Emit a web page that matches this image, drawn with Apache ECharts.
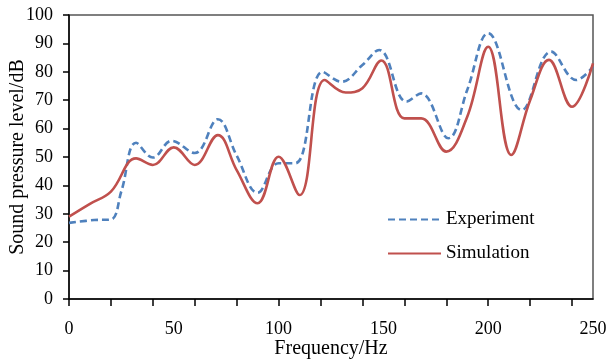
<!DOCTYPE html>
<html>
<head>
<meta charset="utf-8">
<script src="https://cdn.jsdelivr.net/npm/echarts@6/dist/echarts.min.js"></script>
<style>
  html, body { margin: 0; padding: 0; background: #fff; }
  #main { width: 611px; height: 364px; }
</style>
</head>
<body>
<div id="main"></div>
<script>
// values
const expFreq  = [0, 12, 20, 25, 32, 40, 49, 60, 71, 80, 90, 100, 108, 121, 130, 140, 148, 161, 168, 181, 190, 200, 216, 230, 242, 250];
const expLevel = [26.8, 27.8, 28, 38, 55, 49.8, 55.7, 51.4, 63.3, 50.5, 37.4, 47.8, 47.8, 80, 76.5, 82.4, 87.7, 69.5, 72.4, 56.6, 73.6, 93.6, 66.5, 87.1, 77.1, 81.8];

const simFreq  = [0, 10, 20, 32, 40, 50, 60, 71, 80, 90, 100, 110, 122, 132, 140, 149, 160, 168, 180, 190, 200, 211, 220, 229, 240, 250];
const simLevel = [29, 33.5, 37.8, 49.5, 47.2, 53.4, 47.2, 57.7, 45.4, 33.7, 50.1, 36.6, 77.1, 72.7, 74.2, 84, 63.6, 63.6, 51.9, 64.2, 88.8, 50.7, 70, 84.2, 67.7, 83];

const xTicks  = [0, 20, 40, 60, 80, 100, 120, 140, 160, 180, 200, 220, 240];
const xLabels = [0, 50, 100, 150, 200, 250];

const zip = (xs, ys) => xs.map((x, i) => [x, ys[i]]);

const chart = echarts.init(document.getElementById('main'));
const font = 'Liberation Serif, Times New Roman, serif';

const option = {
  animation: false,
  grid: {
    left: 69, right: 18, top: 15, bottom: 65,
    outerBoundsMode: 'none',
    show: true, borderColor: '#555', borderWidth: 1.5
  },
  legend: {
    orient: 'vertical',
    left: 382, top: 205,
    itemWidth: 53, itemHeight: 14, itemGap: 15,
    itemStyle: { opacity: 0 },
    textStyle: { fontFamily: font, fontSize: 19, color: '#000' },
    data: ['Experiment', 'Simulation']
  },
  xAxis: {
    type: 'value', min: 0, max: 250, interval: 50,
    name: 'Frequency/Hz', nameLocation: 'middle', nameGap: 40, nameMoveOverlap: false,
    nameTextStyle: { fontFamily: font, fontSize: 20, color: '#000' },
    axisLine: { lineStyle: { color: '#000', width: 1.5 } },
    axisTick: { show: true, length: 7, customValues: xTicks, lineStyle: { color: '#000', width: 1.5 } },
    axisLabel: { customValues: xLabels, margin: 21, fontFamily: font, fontSize: 18, color: '#000' },
    splitLine: { show: false }
  },
  yAxis: {
    type: 'value', min: 0, max: 100, interval: 10,
    name: 'Sound pressure level/dB', nameLocation: 'middle', nameGap: 41, nameMoveOverlap: false,
    nameTextStyle: { fontFamily: font, fontSize: 20, color: '#000' },
    axisLine: { show: true, lineStyle: { color: '#000', width: 1.5 } },
    axisTick: { show: true, length: 6, lineStyle: { color: '#000', width: 1.5 } },
    axisLabel: { margin: 16, fontFamily: font, fontSize: 18, color: '#000' },
    splitLine: { show: false }
  },
  series: [
    {
      name: 'Experiment', type: 'line', smooth: 0.4, symbol: 'none',
      lineStyle: { color: '#4F81BD', width: 2.6, type: [7, 4] },
      itemStyle: { color: '#4F81BD' },
      data: zip(expFreq, expLevel)
    },
    {
      name: 'Simulation', type: 'line', smooth: 0.4, symbol: 'none',
      lineStyle: { color: '#C0504D', width: 2.6 },
      itemStyle: { color: '#C0504D' },
      data: zip(simFreq, simLevel)
    }
  ]
};

chart.setOption(option);
</script>
</body>
</html>
